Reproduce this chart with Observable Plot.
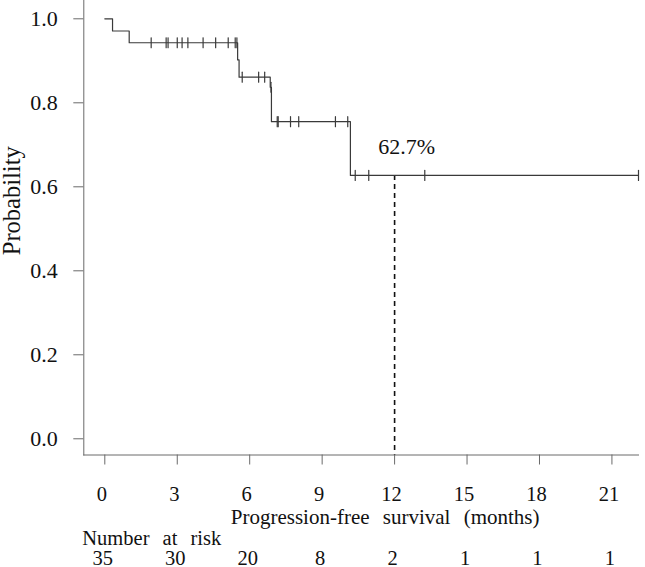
<!DOCTYPE html>
<html><head><meta charset="utf-8">
<script src="https://cdn.jsdelivr.net/npm/d3@7"></script>
<script src="https://cdn.jsdelivr.net/npm/@observablehq/plot@0.6"></script>
<style>
body{margin:0;background:#fff;font-family:"Liberation Serif",serif;}
#chart svg{display:block;}
#chart svg, #chart svg text{font-family:"Liberation Serif","DejaVu Serif",serif !important;}
</style>
</head><body><div id="chart"></div>
<script>
// Kaplan-Meier step function (time in months, survival probability)
const stepTimes = [0, 0.32, 1.01, 5.50, 5.56, 6.85, 6.90, 10.17, 22.1];
const stepSurv  = [1.0, 0.971, 0.943, 0.902, 0.861, 0.837, 0.755, 0.627, 0.627];
// censored observations (months)
const censorTimes = [1.92, 2.54, 2.62, 3.00, 3.20, 3.44, 4.07, 4.59, 5.11, 5.40, 5.47,
                     5.69, 6.37, 6.62, 6.88,
                     7.14, 7.18, 7.69, 8.03, 9.55, 10.06,
                     10.37, 10.93, 13.25, 22.1];
const xTicks = [0, 3, 6, 9, 12, 15, 18, 21];
const atRisk = [35, 30, 20, 8, 2, 1, 1, 1];
const yTicks = [0, 0.2, 0.4, 0.6, 0.8, 1.0];
const markTime = [12];
const markSurv = [0.627];
const markLabel = ["62.7%"];
const xDomain = [-0.87, 22.1];
const yDomain = [-0.0386, 1.0436];

const curve = stepTimes.map((t, i) => ({t, s: stepSurv[i]}));
const survAt = t => stepSurv[d3.bisectRight(stepTimes, t) - 1];
const censors = censorTimes.map(t => ({t, s: survAt(t)}));
const riskRows = xTicks.map((t, i) => ({t, n: atRisk[i]}));
const markRows = markTime.map((t, i) => ({t, s: markSurv[i], label: markLabel[i]}));

const tickShape = {draw(context, l) { context.moveTo(0, 0); context.lineTo(0, -l); }};
const ink = "#111";
const lineCol = "#3a3a3a";
const frameCol = "#6a6a6a";

const chart = Plot.plot({
  width: 645,
  height: 567,
  marginTop: 0,
  marginLeft: 83.3,
  marginRight: 7,
  marginBottom: 112.5,
  style: {fontFamily: "Liberation Serif, serif", fontSize: "20px", color: ink, background: "#fff"},
  x: {domain: xDomain, label: null},
  y: {domain: yDomain, label: null},
  marks: [
    Plot.frame({anchor: "left", stroke: frameCol}),
    Plot.frame({anchor: "bottom", stroke: frameCol}),
    Plot.axisY(yTicks, {tickSize: 10, tickPadding: 16, fontSize: 22, stroke: frameCol, fill: ink, tickFormat: d => d.toFixed(1), label: null}),
    Plot.axisX(xTicks, {tickSize: 10, stroke: frameCol, tickFormat: () => "", label: null}),
    Plot.text(xTicks, {x: d => d, text: d => String(d), frameAnchor: "bottom", lineAnchor: "bottom", dy: 46, dx: -3, fontSize: 20.5, fill: ink}),
    Plot.text(["Progression-free survival (months)"], {text: d => d, frameAnchor: "bottom", lineAnchor: "bottom", dy: 68.5, dx: 24, fontSize: 21, fill: ink}),
    Plot.text(["Number at risk"], {text: d => d, frameAnchor: "bottom-left", textAnchor: "start", lineAnchor: "bottom", dy: 90, dx: -1.5, fontSize: 20.5, fill: ink}),
    Plot.text(riskRows, {x: "t", text: "n", frameAnchor: "bottom", lineAnchor: "bottom", dy: 109.5, dx: -2, fontSize: 20.5, fill: ink}),
    Plot.text(["Probability"], {text: d => d, frameAnchor: "left", rotate: -90, textAnchor: "middle", lineAnchor: "top", dx: -81.5, dy: -27, fontSize: 24.5, fill: ink}),
    Plot.ruleX(markRows, {x: "t", y1: "s", y2: () => yDomain[0], stroke: ink, strokeWidth: 1.6, strokeDasharray: "5,4"}),
    Plot.line(curve, {x: "t", y: "s", curve: "step-after", stroke: lineCol, strokeWidth: 1.2}),
    Plot.vector(censors, {x: "t", y: "s", length: 10, rotate: 0, anchor: "middle", shape: tickShape, stroke: lineCol, strokeWidth: 1.2}),
    Plot.text(markRows, {x: "t", y: "s", text: "label", lineAnchor: "bottom", dy: -21, dx: 12, fontSize: 22, fill: ink})
  ]
});
d3.select(chart).selectAll("text")
  .filter(function() { return this.textContent === "Progression-free survival (months)" || this.textContent === "Number at risk"; })
  .style("word-spacing", "8px");
document.getElementById("chart").appendChild(chart);
</script>
</body></html>
